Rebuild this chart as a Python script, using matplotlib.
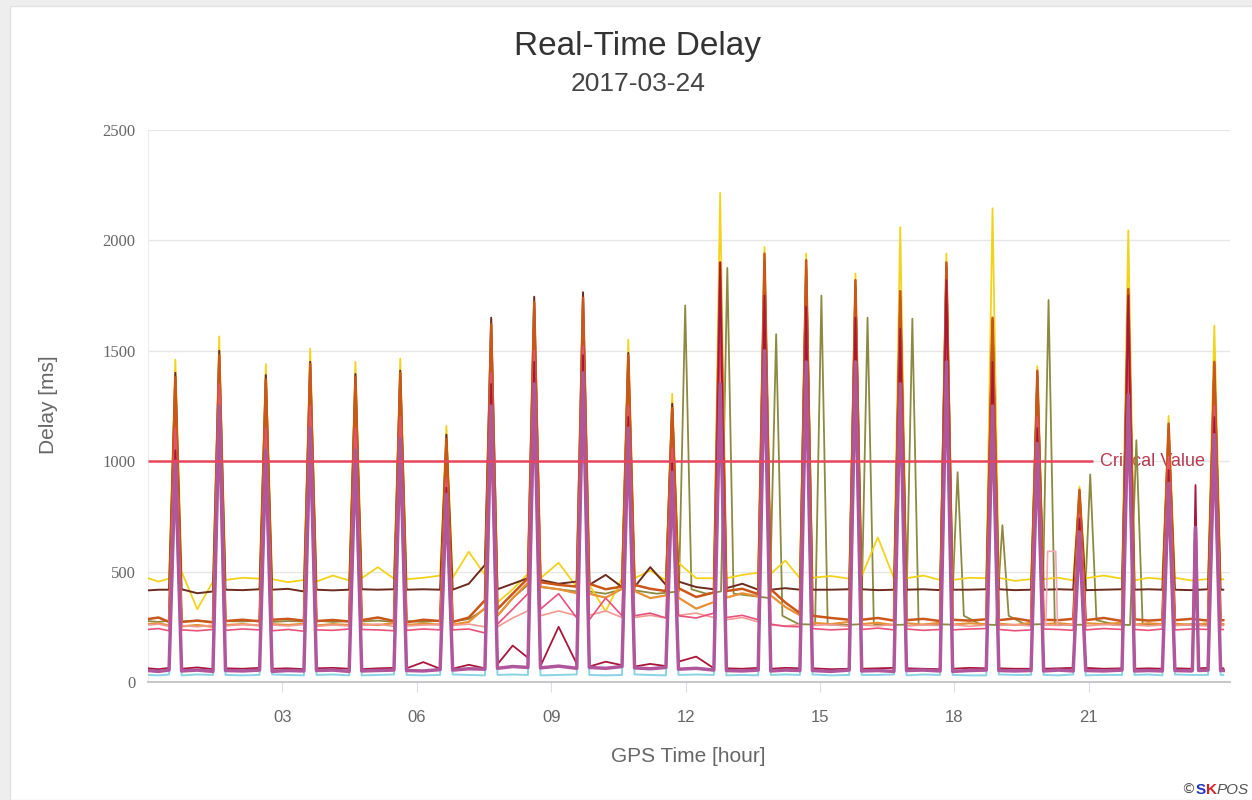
import matplotlib.pyplot as plt
from matplotlib.patches import Rectangle

# hours of the regular hourly spikes
main_t = [0.61, 1.59, 2.63, 3.62, 4.63, 5.63, 6.66, 7.66, 8.62, 9.71, 10.72, 11.70,
          12.77, 13.76, 14.69, 15.79, 16.79, 17.82, 18.85, 19.85, 20.79, 21.88, 22.78, 23.80]
# the olive station lags behind after noon
olive_t = [0.61, 1.59, 2.63, 3.62, 4.63, 5.63, 6.66, 7.66, 8.62, 9.71, 10.72,
           11.99, 12.93, 14.02, 15.03, 16.06, 17.06, 18.07, 19.07, 20.10, 21.03, 22.06, 22.78, 23.80]

yellow_pk = [1460, 1565, 1440, 1510, 1450, 1465, 1160, 1560, 1660, 1690, 1550, 1305,
             2215, 1970, 1940, 1850, 2060, 1940, 2145, 1430, 885, 2045, 1205, 1615]
brown_pk = [1400, 1500, 1390, 1450, 1395, 1410, 1120, 1650, 1745, 1765, 1490, 1260,
            1780, 1900, 1880, 1790, 1740, 1880, 1640, 1390, 860, 1760, 1150, 1440]
orange1_pk = [1380, 1480, 1370, 1440, 1380, 1400, 1100, 1620, 1720, 1740, 1480, 1240,
              1900, 1940, 1910, 1820, 1770, 1900, 1650, 1410, 870, 1780, 1170, 1450]
orange2_pk = [1340, 1450, 1330, 1400, 1340, 1360, 1060, 1580, 1680, 1700, 1440, 1200,
              1850, 1880, 1860, 1780, 1720, 1850, 1600, 1360, 840, 1730, 1140, 1400]
olive_pk = [1300, 1400, 1300, 1350, 1300, 1320, 1000, 1500, 1600, 1620, 1400,
            1705, 1875, 1575, 1750, 1650, 1645, 950, 710, 1730, 940, 1095, 1100, 1350]
pink_pk = [1150, 1350, 1150, 1250, 1150, 1200, 920, 1400, 1500, 1520, 1250, 1060,
           1600, 1650, 1600, 1550, 1500, 1600, 1400, 1200, 760, 1500, 1020, 1250]
salmon_pk = [1100, 1300, 1100, 1200, 1100, 1150, 900, 1350, 1450, 1480, 1200, 1020,
             1550, 1600, 1550, 1500, 1450, 1550, 1350, 1150, 740, 1450, 990, 1200]
crimson_pk = [1050, 1200, 1050, 1150, 1050, 1100, 880, 1350, 1450, 1480, 1200, 1000,
              1900, 1750, 1700, 1650, 1600, 1820, 1450, 1150, 740, 1750, 960, 1200]
mauve_pk = [1000, 1250, 1050, 1150, 1050, 1100, 850, 1250, 1350, 1400, 1150, 950,
            1350, 1500, 1450, 1450, 1350, 1450, 1250, 1080, 680, 1300, 900, 1120]
cyan_pk = [900, 1100, 950, 1050, 950, 1000, 800, 1150, 1250, 1300, 1050, 900,
           1250, 1400, 1350, 1300, 1250, 1350, 1150, 1000, 650, 1200, 850, 1050]

# baseline between spikes: (start, middle, end) of each gap
yellow_base = [(470, 455, 468), (500, 330, 455), (462, 472, 468), (466, 452, 462), (455, 482, 460),
               (470, 520, 468), (465, 472, 482), (472, 590, 485), (360, 420, 490), (470, 540, 430),
               (440, 320, 470), (470, 505, 460), (540, 470, 470), (470, 485, 495), (490, 550, 470),
               (472, 480, 468), (480, 655, 470), (470, 482, 462), (462, 472, 470), (472, 458, 466),
               (466, 472, 460), (470, 482, 468), (460, 472, 466), (472, 460, 466), (465, 465, 465)]
brown_base = [(415, 418, 418), (420, 402, 410), (418, 416, 420), (418, 422, 410), (418, 415, 418),
              (420, 418, 420), (418, 420, 418), (418, 445, 530), (420, 445, 470), (462, 445, 455),
              (440, 485, 430), (430, 520, 440), (455, 430, 420), (425, 445, 418), (418, 425, 418),
              (418, 418, 420), (420, 416, 418), (418, 420, 416), (418, 418, 420), (420, 416, 418),
              (418, 420, 418), (416, 418, 420), (418, 420, 418), (418, 416, 420), (418, 418, 418)]
orange1_base = [(285, 292, 272), (272, 278, 270), (276, 282, 275), (282, 286, 278), (276, 281, 274),
                (280, 292, 276), (270, 282, 276), (272, 292, 370), (330, 400, 470), (452, 440, 432),
                (445, 420, 432), (440, 422, 412), (425, 385, 405), (412, 422, 398), (420, 360, 312),
                (300, 290, 282), (282, 290, 278), (280, 286, 276), (282, 278, 284), (280, 288, 276),
                (282, 280, 286), (280, 290, 276), (284, 278, 282), (280, 286, 278), (280, 280, 280)]
orange2_base = [(262, 266, 256), (252, 258, 250), (258, 262, 256), (262, 258, 264), (256, 262, 258),
                (262, 258, 266), (258, 264, 260), (260, 272, 335), (300, 380, 450), (432, 420, 402),
                (400, 382, 422), (412, 380, 392), (382, 332, 362), (382, 402, 388), (392, 340, 302),
                (268, 262, 272), (262, 268, 258), (266, 260, 268), (260, 266, 262), (264, 258, 268),
                (262, 266, 260), (266, 262, 268), (260, 266, 262), (264, 258, 266), (262, 262, 262)]
olive_base = [(276, 272, 278), (274, 278, 272), (276, 274, 278), (272, 276, 274), (278, 272, 276),
              (274, 278, 272), (276, 272, 278), (274, 285, 330), (300, 380, 440), (430, 420, 410),
              (410, 400, 420), (415, 400, 410), (420, 400, 410), (400, 390, 380), (300, 262, 260),
              (260, 258, 262), (262, 258, 260), (258, 262, 260), (300, 262, 258), (300, 260, 262),
              (262, 258, 260), (280, 262, 258), (262, 260, 258), (258, 262, 260), (260, 260, 260)]
pink_base = [(238, 242, 232), (236, 232, 238), (234, 240, 236), (232, 238, 230), (236, 234, 240),
             (238, 236, 232), (234, 240, 236), (236, 240, 222), (262, 330, 400), (330, 400, 290),
             (282, 380, 300), (300, 312, 290), (300, 290, 312), (292, 302, 282), (262, 252, 250),
             (242, 236, 240), (238, 244, 236), (240, 234, 238), (236, 240, 242), (238, 232, 236),
             (240, 238, 234), (236, 242, 238), (238, 234, 240), (236, 240, 238), (238, 238, 238)]
salmon_base = [(258, 262, 252), (256, 250, 258), (254, 260, 256), (258, 254, 260), (252, 258, 254),
               (256, 262, 252), (254, 258, 260), (256, 262, 250), (250, 290, 322), (300, 322, 300),
               (302, 322, 292), (292, 302, 290), (302, 312, 292), (282, 292, 272), (258, 254, 260),
               (256, 260, 252), (258, 254, 260), (254, 258, 256), (260, 252, 258), (256, 260, 254),
               (258, 256, 260), (254, 260, 256), (258, 254, 258), (256, 258, 254), (256, 256, 256)]
crimson_base = [(62, 58, 64), (60, 66, 58), (62, 60, 64), (60, 62, 58), (62, 64, 60),
                (58, 62, 64), (62, 90, 60), (60, 78, 62), (80, 165, 110), (72, 250, 82),
                (70, 92, 76), (70, 82, 72), (92, 115, 62), (62, 60, 64), (60, 64, 62),
                (62, 58, 60), (60, 62, 64), (62, 60, 58), (60, 64, 62), (62, 60, 60),
                (60, 62, 64), (64, 60, 62), (60, 62, 60), (62, 60, 64), (62, 62, 62)]
mauve_base = [(52, 48, 54), (50, 54, 48), (52, 50, 54), (48, 52, 50), (52, 54, 48),
              (50, 52, 54), (52, 50, 56), (54, 60, 58), (62, 70, 66), (64, 72, 62),
              (66, 62, 70), (64, 60, 66), (58, 62, 54), (52, 50, 54), (50, 54, 52),
              (52, 48, 54), (50, 52, 48), (52, 54, 50), (48, 52, 54), (52, 50, 52),
              (50, 54, 50), (52, 50, 54), (50, 52, 50), (52, 50, 54), (52, 52, 52)]
cyan_base = [(32, 30, 34), (30, 34, 32), (32, 30, 32), (34, 32, 30), (32, 34, 30),
             (30, 32, 34), (32, 30, 32), (34, 32, 30), (32, 34, 32), (30, 32, 34),
             (32, 30, 32), (34, 32, 30), (32, 34, 32), (30, 32, 30), (32, 34, 32),
             (34, 30, 32), (32, 32, 34), (30, 34, 32), (32, 30, 30), (34, 32, 32),
             (32, 30, 34), (30, 32, 32), (32, 34, 30), (34, 32, 32), (32, 32, 32)]

# one extra short spike late in the day
extra_t = 23.38
crimson_extra = 892
mauve_extra = 700

# pink station's flat excursion near 20h
box_t = [20.04, 20.08, 20.26, 20.30]
box_v = [262, 592, 592, 262]

crit_value = 1000
crit_end = 21.1

HW = 0.14  # half width of a spike in hours


def build(times, peaks, base, end=24.0):
    t, v = [], []
    for k in range(len(times) + 1):
        a = times[k - 1] + HW if k > 0 else 0.0
        b = times[k] - HW if k < len(times) else end
        t += [a, (a + b) / 2, b]
        v += list(base[k])
        if k < len(times):
            t.append(times[k])
            v.append(peaks[k])
    return t, v


def add_spike(t, v, tt, val, lvl):
    pts = sorted(list(zip(t, v)) + [(tt - 0.07, lvl), (tt, val), (tt + 0.07, lvl)])
    return [p[0] for p in pts], [p[1] for p in pts]


fig = plt.figure(figsize=(12.52, 8), dpi=100)
fig.patch.set_facecolor('#eeeeee')
fig.add_artist(Rectangle((10 / 1252, 0), 1, 1 - 6 / 800, transform=fig.transFigure,
                         facecolor='white', edgecolor='#e2e2e2', lw=1, zorder=0))

ax = fig.add_axes([148 / 1252, 1 - 682 / 800, 1082 / 1252, 552 / 800])
ax.set_facecolor('none')

series = [
    (main_t, cyan_pk, cyan_base, '#8ad3e6', 1.4),
    (olive_t, olive_pk, olive_base, '#8c8a40', 1.3),
    (main_t, yellow_pk, yellow_base, '#f2d31b', 1.3),
    (main_t, brown_pk, brown_base, '#6b2b1f', 1.4),
    (main_t, orange2_pk, orange2_base, '#e69135', 1.6),
    (main_t, orange1_pk, orange1_base, '#c9571a', 1.8),
    (main_t, salmon_pk, salmon_base, '#f29a92', 1.2),
    (main_t, pink_pk, pink_base, '#e8507c', 1.2),
    (main_t, crimson_pk, crimson_base, '#a8163c', 1.3),
    (main_t, mauve_pk, mauve_base, '#b0579c', 2.5),
]
for times, pk, base, col, lw in series:
    t, v = build(times, pk, base)
    if col == '#a8163c':
        t, v = add_spike(t, v, extra_t, crimson_extra, 62)
    if col == '#b0579c':
        t, v = add_spike(t, v, extra_t, mauve_extra, 52)
    ax.plot(t, v, color=col, lw=lw, solid_joinstyle='round', zorder=3)
    if col == '#f29a92':
        ax.plot(box_t, box_v, color='#f0a8b8', lw=1.2, zorder=3)

ax.hlines(crit_value, 0, crit_end, color='#e8455e', lw=1.8, zorder=5)
ax.text(crit_end + 0.15, crit_value, 'Critical Value', color='#b83a50', fontsize=13,
        family='Liberation Sans', va='center', ha='left', zorder=2)

ax.set_xlim(0, 24.15)
ax.set_ylim(0, 2500)
ax.set_yticks([0, 500, 1000, 1500, 2000, 2500])
ax.set_xticks([3, 6, 9, 12, 15, 18, 21])
ax.set_xticklabels(['03', '06', '09', '12', '15', '18', '21'])
ax.grid(axis='y', color='#e6e6e6', lw=1, zorder=0)
for s in ['top', 'right']:
    ax.spines[s].set_visible(False)
ax.spines['left'].set_color('#ececec')
ax.spines['bottom'].set_color('#c8c8c8')
ax.spines['bottom'].set_linewidth(1.5)
ax.tick_params(axis='x', length=7, color='#d8dde8', labelsize=12, labelcolor='#666666', pad=13)
ax.tick_params(axis='y', length=0, labelsize=12, labelcolor='#666666', pad=9)
for lab in ax.get_yticklabels():
    lab.set_family('Liberation Serif')
for lab in ax.get_xticklabels():
    lab.set_family('Liberation Sans')

fig.text(638 / 1252, 1 - 46 / 800, 'Real-Time Delay', ha='center', va='center',
         fontsize=24, color='#333333', family='Liberation Sans')
fig.text(638 / 1252, 1 - 84 / 800, '2017-03-24', ha='center', va='center',
         fontsize=19, color='#444444', family='Liberation Sans')
fig.text(48 / 1252, 1 - 405 / 800, 'Delay [ms]', ha='center', va='center', rotation=90,
         fontsize=15, color='#666666', family='Liberation Sans')
fig.text(688 / 1252, 1 - 757 / 800, 'GPS Time [hour]', ha='center', va='center',
         fontsize=15, color='#666666', family='Liberation Sans')

fig.text(1181 / 1252, 1 - 790 / 800, '\u00a9', ha='left', va='center', fontsize=10, color='#555555')
fig.text(1196 / 1252, 1 - 790 / 800, 'S', ha='left', va='center', fontsize=11,
         color='#2136b8', weight='bold', family='Liberation Sans')
fig.text(1206 / 1252, 1 - 790 / 800, 'K', ha='left', va='center', fontsize=11,
         color='#d42128', weight='bold', family='Liberation Sans')
fig.text(1217 / 1252, 1 - 790 / 800, 'POS', ha='left', va='center', fontsize=11,
         color='#555555', style='italic', family='Liberation Sans')

plt.savefig('out.png', dpi=100)
